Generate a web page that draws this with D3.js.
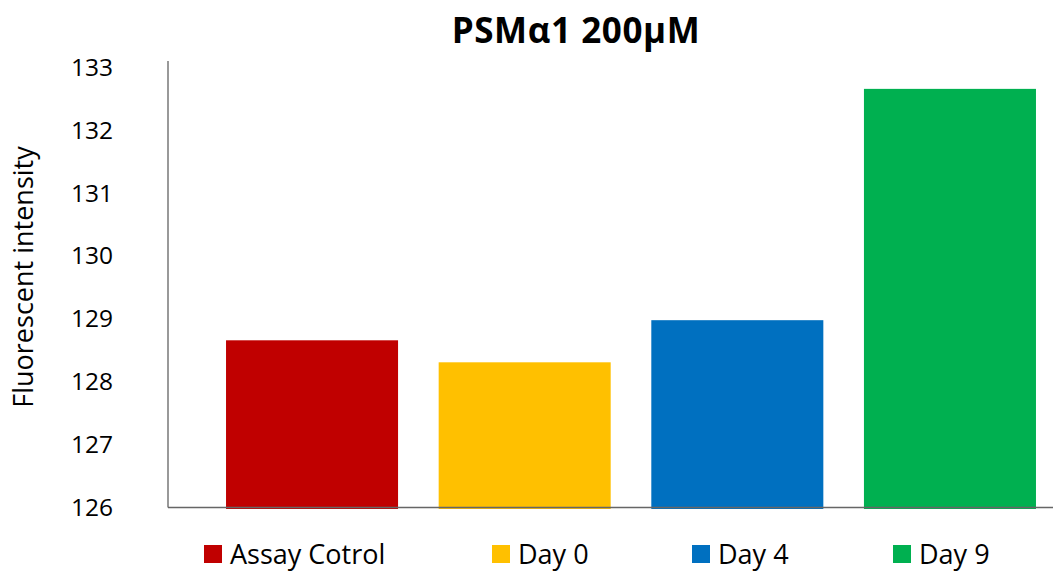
<!DOCTYPE html>
<html>
<head>
<meta charset="utf-8">
<script src="https://cdn.jsdelivr.net/npm/d3@7"></script>
<style>
  body { margin: 0; background: #fff; }
  text { font-family: "Open Sans", sans-serif; fill: #000; }
</style>
</head>
<body>
<svg id="chart" width="1053" height="573"></svg>
<script>
var categories = ['Assay Cotrol', 'Day 0', 'Day 4', 'Day 9'];
var values = [128.66, 128.31, 128.98, 132.66];
var colors = ['#C00000', '#FFC000', '#0070C0', '#00B050'];
var yTicks = [126, 127, 128, 129, 130, 131, 132, 133];

var svg = d3.select('#chart');

var x = d3.scaleBand()
    .domain(categories)
    .range([205.7, 1056.3])
    .paddingInner(0.191)
    .paddingOuter(0.0956);

var y = d3.scaleLinear()
    .domain([126, 133])
    .range([507.5, 67.5]);

// title
svg.append('text')
    .attr('x', 576)
    .attr('y', 43)
    .attr('text-anchor', 'middle')
    .style('font-size', '35px')
    .style('font-weight', 'bold')
    .style('letter-spacing', '0.6px')
    .text('PSMα1 200μM');

// bars
svg.selectAll('rect.bar')
    .data(values)
    .enter()
    .append('rect')
    .attr('class', 'bar')
    .attr('x', function(d, i){ return x(categories[i]); })
    .attr('y', function(d){ return y(d); })
    .attr('width', x.bandwidth())
    .attr('height', function(d){ return y(126) - y(d) + 1.5; })
    .style('fill', function(d, i){ return colors[i]; });

// y axis
var yAxis = svg.append('g')
    .attr('transform', 'translate(168,0)')
    .call(d3.axisLeft(y).tickValues(yTicks).tickSize(0).tickPadding(55).tickFormat(d3.format('d')));
yAxis.select('.domain').remove();
yAxis.selectAll('text')
    .style('font-size', '24.5px')
    .style('font-family', '"Open Sans", sans-serif');

svg.append('line')
    .attr('x1', 168).attr('x2', 168)
    .attr('y1', 61).attr('y2', y(126))
    .style('stroke', '#777')
    .style('stroke-width', 1.5);

svg.append('line')
    .attr('x1', 168).attr('x2', 1053)
    .attr('y1', y(126)).attr('y2', y(126))
    .style('stroke', '#666')
    .style('stroke-width', 1.5);

// y label
svg.append('text')
    .attr('transform', 'translate(33,277) rotate(-90)')
    .attr('text-anchor', 'middle')
    .style('font-size', '27px')
    .text('Fluorescent intensity');

// legend
var legendX = [204, 492, 692, 893];
var legend = svg.selectAll('g.legend')
    .data(categories)
    .enter()
    .append('g')
    .attr('class', 'legend')
    .attr('transform', function(d, i){ return 'translate(' + legendX[i] + ',545)'; });
legend.append('rect')
    .attr('width', 18)
    .attr('height', 18)
    .style('fill', function(d, i){ return colors[i]; });
legend.append('text')
    .attr('x', 26)
    .attr('y', 19)
    .style('font-size', '27px')
    .text(function(d){ return d; });
</script>
</body>
</html>
